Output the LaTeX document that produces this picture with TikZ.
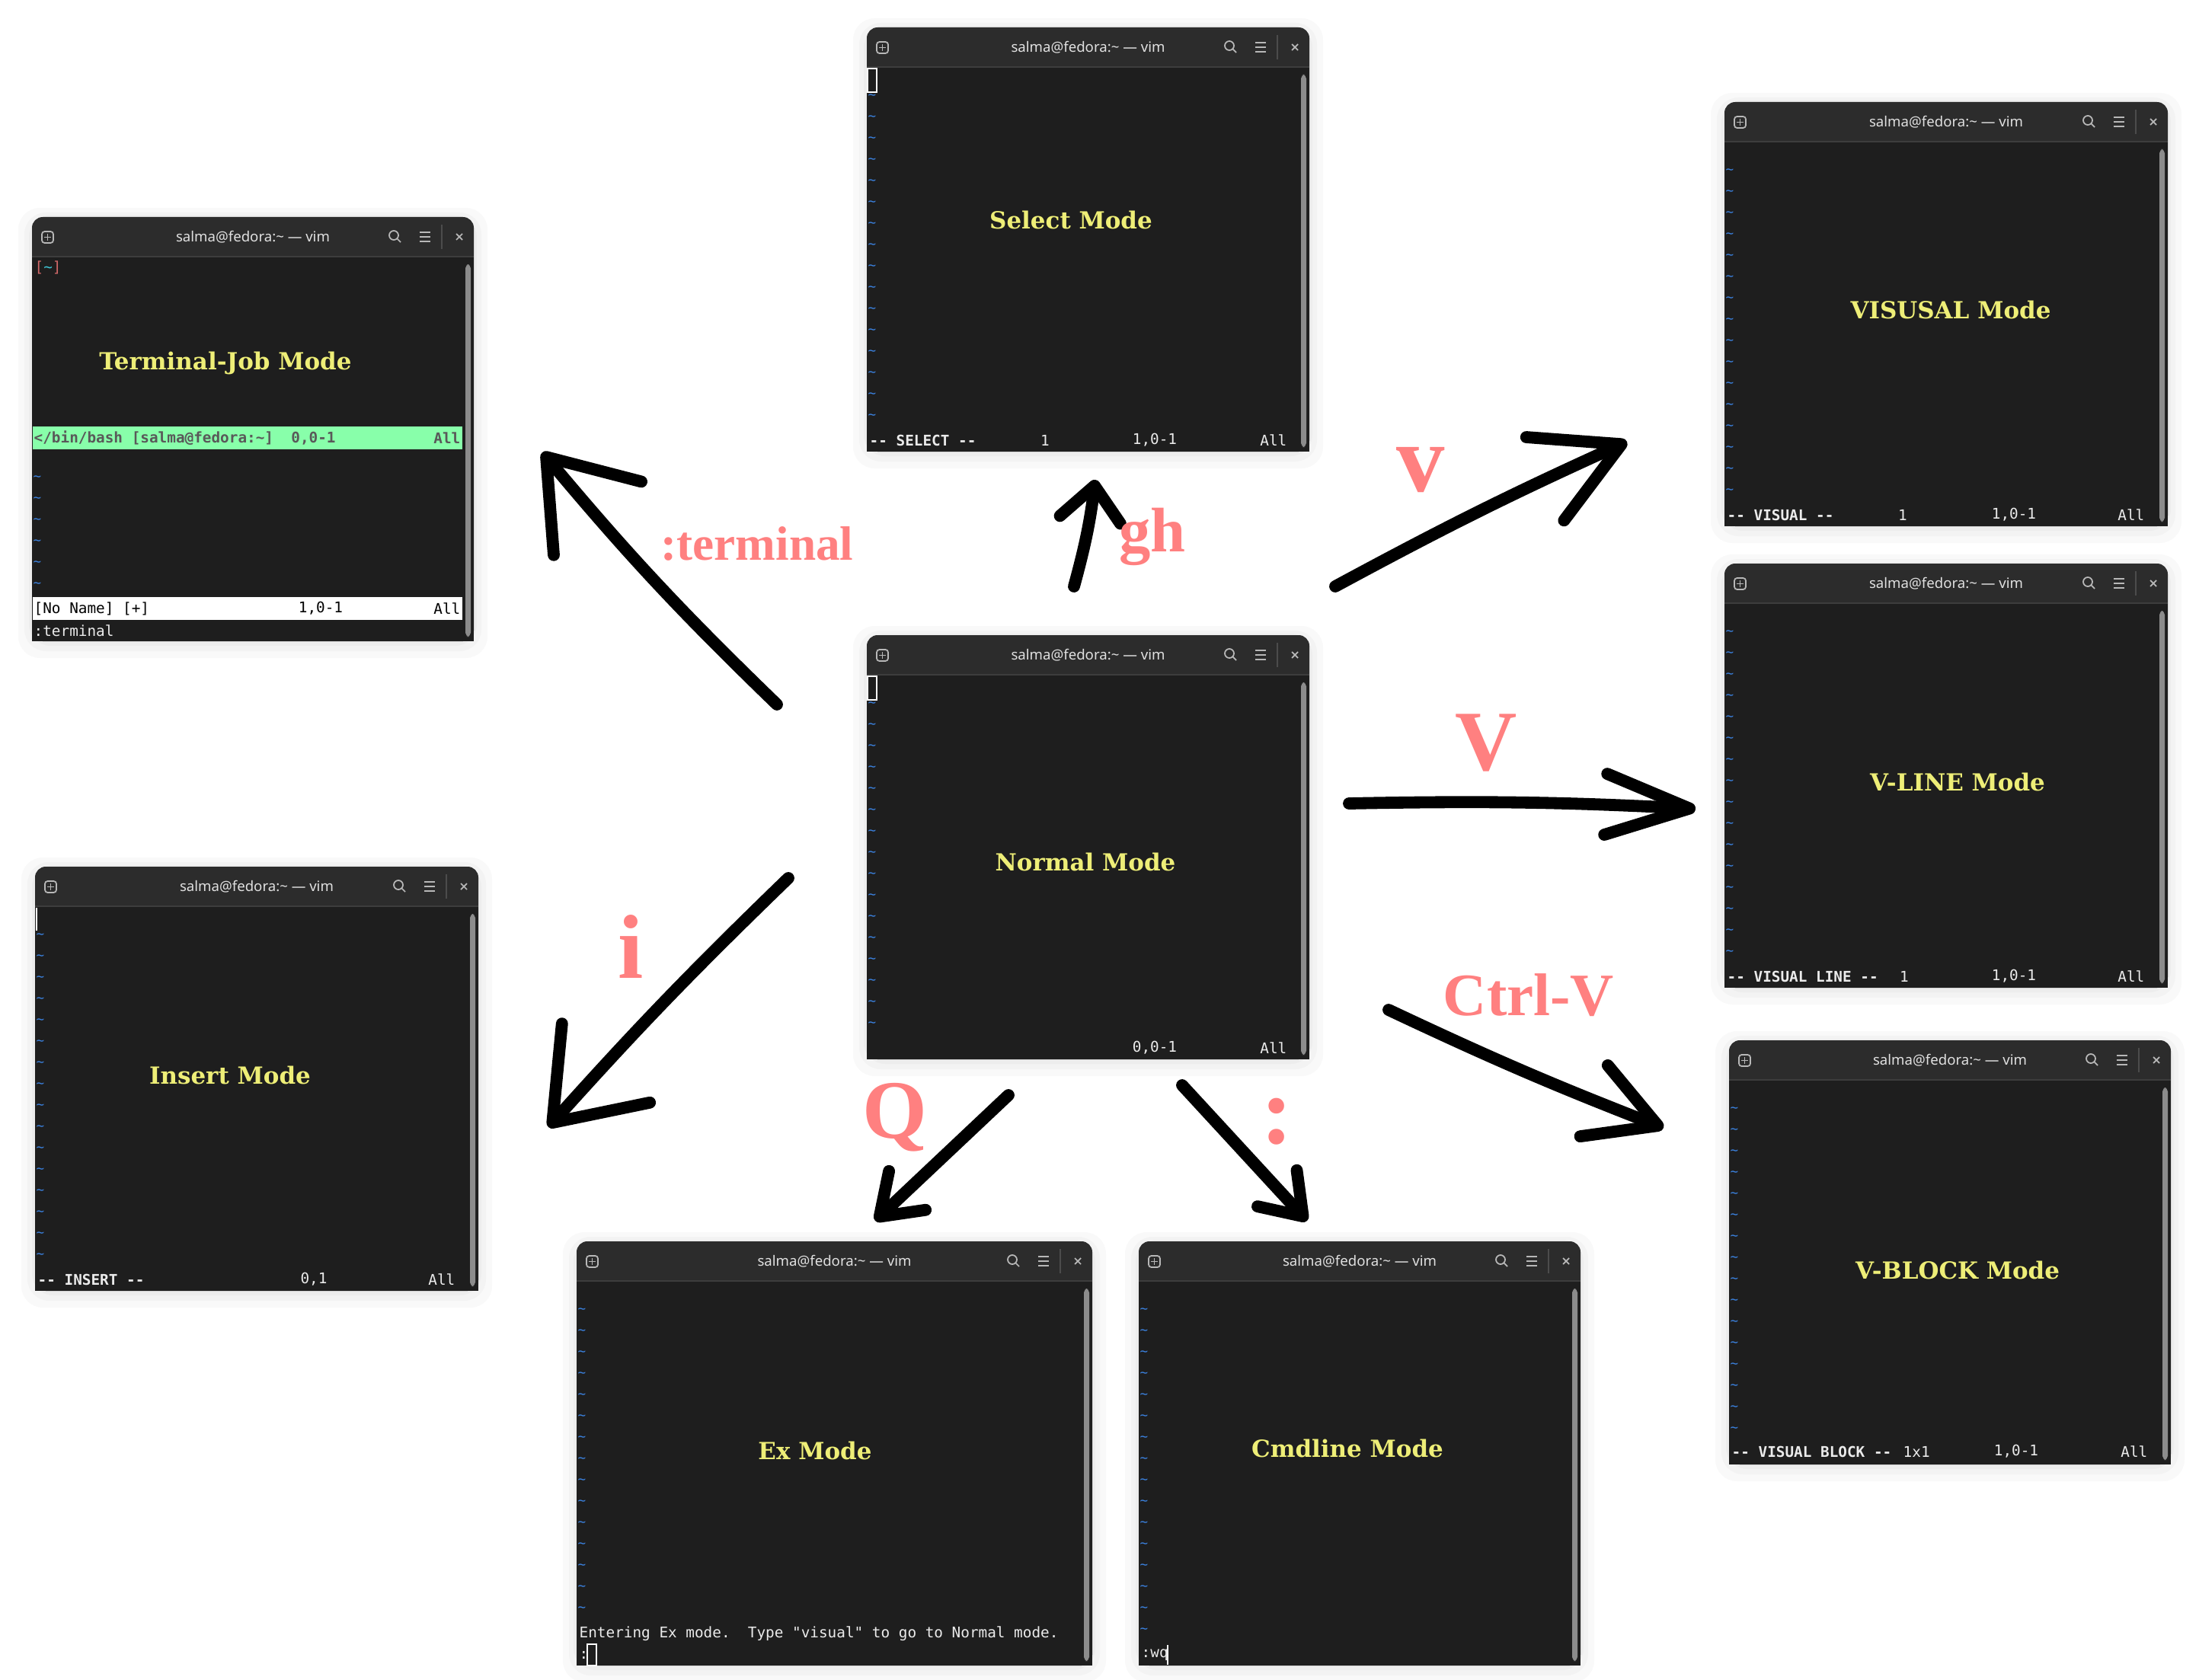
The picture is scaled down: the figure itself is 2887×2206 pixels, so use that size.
\documentclass[tikz,border=0pt]{standalone}
\usepackage{fontspec}
\setmainfont{DejaVu Serif}
\newfontfamily\keyfont{Liberation Serif}
\newfontfamily\titlefont{Noto Sans}
\newfontfamily\vimfont{DejaVu Sans Mono}
\usetikzlibrary{arrows.meta,fit,calc}

\definecolor{winbar}{HTML}{2C2C2C}
\definecolor{winbg}{HTML}{1E1E1E}
\definecolor{modeyellow}{HTML}{EEEE77}
\definecolor{keyred}{HTML}{FF8080}
\definecolor{tildeblue}{HTML}{3B82E0}
\definecolor{termgreen}{HTML}{88FFAA}
\definecolor{bracketred}{HTML}{D06868}
\definecolor{tildecyan}{HTML}{40C8D8}

\tikzset{
  winshadow/.style={fill=black, opacity=0.025, rounded corners=8pt},
  winframe/.style={fill=winbar, inner sep=0pt, rounded corners=4pt},
  wintitle/.style={text=white!88!black, font=\titlefont\fontsize{5.3}{6}\selectfont, inner sep=0pt},
  icon/.style={draw=white!72!black, line width=0.5pt},
  tilde/.style={text=tildeblue, font=\vimfont\fontsize{5}{6}\selectfont, inner sep=0pt},
  vimtext/.style={text=white!92!black, font=\vimfont\fontsize{5.5}{6.5}\selectfont, inner sep=0pt},
  vimbold/.style={vimtext, font=\vimfont\bfseries\fontsize{5.5}{6.5}\selectfont},
  modename/.style={text=modeyellow, font=\bfseries\fontsize{8.8}{10}\selectfont},
  keyname/.style={text=keyred, font=\keyfont\bfseries\fontsize{#1}{#1}\selectfont},
  stroke/.style={line width=4.5pt, line cap=round, line join=round,
    -{Straight Barb[round,#1]}},
}

% one vim window: name, top left, bottom right, first and last tilde row
\newcommand{\vimwin}[7]{%
  \fill[winshadow] (#2-18,#3-12) rectangle (#4+18,#5+22);
  \fill[winshadow] (#2-10,#3-6) rectangle (#4+10,#5+13);
  \fill[winshadow] (#2-4,#3-2) rectangle (#4+4,#5+6);
  \node[winframe, fit={(#2,#3) (#4,#5)}] (#1) {};
  \fill[winbg] (#2,#3+52) rectangle (#4,#5);
  \draw[white!24!black, line width=0.6pt] (#2,#3+52) -- (#4,#3+52);
  \draw[icon, rounded corners=1pt] (#2+13,#3+19) rectangle (#2+28,#3+34);
  \draw[icon] (#2+20.5,#3+22) -- (#2+20.5,#3+31) (#2+16,#3+26.5) -- (#2+25,#3+26.5);
  \draw[icon] (#4-105,#3+24) circle[radius=6] (#4-100.5,#3+28.5) -- (#4-96,#3+33);
  \draw[icon] (#4-71,#3+20) -- (#4-57,#3+20) (#4-71,#3+26) -- (#4-57,#3+26)
    (#4-71,#3+32) -- (#4-57,#3+32);
  \draw[white!30!black, line width=0.5pt] (#4-42,#3+10) -- (#4-42,#3+42);
  \draw[icon] (#4-23,#3+22) -- (#4-15,#3+30) (#4-23,#3+30) -- (#4-15,#3+22);
  \fill[white!55!black, rounded corners=1.5pt] (#4-11,#3+62) rectangle (#4-4,#5-6);
  \node[wintitle] (#1-title) at ({(#2+#4)/2},#3+26) {salma@fedora:\textasciitilde{} — vim};
  \foreach \k in {#6,...,#7}
    \node[tilde] (#1-t\k) at (#2+7,#3+63+28*\k) {\textasciitilde};
}

\begin{document}
\begin{tikzpicture}[x=0.01cm, y=-0.01cm]
\useasboundingbox[fill=white] (0,0) rectangle (2887,2206);

% windows
\vimwin{sel}{1138}{36}{1719}{593}{1}{16}
\vimwin{nor}{1138}{834}{1719}{1391}{1}{16}
\vimwin{term}{42}{285}{622}{842}{10}{15}
\vimwin{ins}{46}{1138}{628}{1695}{1}{16}
\vimwin{ex}{757}{1630}{1434}{2187}{1}{15}
\vimwin{cmd}{1495}{1630}{2075}{2187}{1}{16}
\vimwin{vis}{2264}{134}{2846}{691}{1}{16}
\vimwin{vline}{2264}{740}{2846}{1297}{1}{16}
\vimwin{vblock}{2270}{1366}{2850}{1923}{1}{16}

% select
\draw[white, line width=0.6pt] (1139,90) rectangle (1151,121);
\node[vimbold, anchor=west] (sel-st) at (1141,578) {-- SELECT --};
\node[vimtext] (sel-cnt) at (1372,578) {1};
\node[vimtext] (sel-pos) at (1516,578) {1,0-1};
\node[vimtext, anchor=east] (sel-all) at (1690,578) {All};
\node[modename] (sel-lbl) at (1406,289) {Select Mode};

% normal
\draw[white, line width=0.6pt] (1139,888) rectangle (1151,919);
\node[vimtext] (nor-pos) at (1516,1376) {0,0-1};
\node[vimtext, anchor=east] (nor-all) at (1690,1376) {All};
\node[modename] (nor-lbl) at (1425,1132) {Normal Mode};

% terminal-job
\node[vimtext, anchor=west] (term-prompt) at (45,351) {{\color{bracketred}[}{\color{tildecyan}\textasciitilde}{\color{bracketred}]}};
\fill[termgreen] (43,560) rectangle (607,590);
\node[vimbold, text=black!65, anchor=west] (term-job) at (44,575) {</bin/bash [salma@fedora:\textasciitilde]\ \ 0,0-1};
\node[vimbold, text=black!65, anchor=east] (term-all) at (605,575) {All};
\fill[white] (43,784) rectangle (607,814);
\node[vimtext, text=black, anchor=west] (term-buf) at (44,799) {[No Name] [+]};
\node[vimtext, text=black] (term-pos) at (421,799) {1,0-1};
\node[vimtext, text=black, anchor=east] (term-all2) at (605,799) {All};
\node[vimtext, anchor=west] (term-cmd) at (44,828) {:terminal};
\node[modename] (term-lbl) at (296,477) {Terminal-Job Mode};

% insert
\draw[white, line width=0.8pt] (48,1192) -- (48,1222);
\node[vimbold, anchor=west] (ins-st) at (49,1680) {-- INSERT --};
\node[vimtext] (ins-pos) at (412,1680) {0,1};
\node[vimtext, anchor=east] (ins-all) at (598,1680) {All};
\node[modename] (ins-lbl) at (302,1412) {Insert Mode};

% ex
\node[vimtext, anchor=west] (ex-msg) at (760,2145) {Entering Ex mode.\ \ Type "visual" to go to Normal mode.};
\node[vimtext, anchor=west] (ex-col) at (760,2173) {:};
\draw[white, line width=0.6pt] (771,2159) rectangle (783,2187);
\node[modename] (ex-lbl) at (1070,1905) {Ex Mode};

% cmdline
\node[vimtext, anchor=west] (cmd-wq) at (1498,2173) {:wq};
\draw[white, line width=0.8pt] (1533,2160) -- (1533,2186);
\node[modename] (cmd-lbl) at (1769,1902) {Cmdline Mode};

% visual
\node[vimbold, anchor=west] (vis-st) at (2267,676) {-- VISUAL --};
\node[vimtext] (vis-cnt) at (2498,676) {1};
\node[vimtext] (vis-pos) at (2644,676) {1,0-1};
\node[vimtext, anchor=east] (vis-all) at (2816,676) {All};
\node[modename] (vis-lbl) at (2561,407) {VISUSAL Mode};

% visual line
\node[vimbold, anchor=west] (vline-st) at (2267,1282) {-- VISUAL LINE --};
\node[vimtext] (vline-cnt) at (2500,1282) {1};
\node[vimtext] (vline-pos) at (2644,1282) {1,0-1};
\node[vimtext, anchor=east] (vline-all) at (2816,1282) {All};
\node[modename] (vline-lbl) at (2570,1027) {V-LINE Mode};

% visual block
\node[vimbold, anchor=west] (vblock-st) at (2273,1906) {-- VISUAL BLOCK --};
\node[vimtext, anchor=west] (vblock-cnt) at (2498,1906) {1x1};
\node[vimtext] (vblock-pos) at (2647,1906) {1,0-1};
\node[vimtext, anchor=east] (vblock-all) at (2820,1906) {All};
\node[modename] (vblock-lbl) at (2570,1668) {V-BLOCK Mode};

% arrow ends
\coordinate (term-from) at (1020,925);
\coordinate (term-to) at (712,594);
\coordinate (sel-from) at (1410,770);
\coordinate (sel-to) at (1438,630);
\coordinate (vis-from) at (1753,770);
\coordinate (vis-to) at (2136,580);
\coordinate (vline-from) at (1771,1055);
\coordinate (vline-to) at (2226,1062);
\coordinate (vblock-from) at (1823,1326);
\coordinate (vblock-to) at (2184,1481);
\coordinate (ins-from) at (1035,1153);
\coordinate (ins-to) at (720,1480);
\coordinate (ex-from) at (1324,1438);
\coordinate (ex-to) at (1149,1603);
\coordinate (cmd-from) at (1552,1425);
\coordinate (cmd-to) at (1716,1603);

\draw[stroke={length=1.05cm,width=1.5cm}] (term-from) to[bend left=3] (term-to);
\draw[stroke={length=0.45cm,width=0.8cm}] (sel-from) to[bend right=4] (sel-to);
\draw[stroke={length=1.1cm,width=1.2cm}] (vis-from) to[bend left=2] (vis-to);
\draw[stroke={length=1.1cm,width=0.8cm}] (vline-from) to[bend left=2] (vline-to);
\draw[stroke={length=0.9cm,width=1.0cm}] (vblock-from) to[bend right=2] (vblock-to);
\draw[stroke={length=1.05cm,width=1.55cm}] (ins-from) to[bend right=2] (ins-to);
\draw[stroke={length=0.5cm,width=0.7cm}] (ex-from) -- (ex-to);
\draw[stroke={length=0.5cm,width=0.7cm}] (cmd-from) -- (cmd-to);

% key labels
\node[keyname=18] (term-key) at (994,714) {:terminal};
\node[keyname=23.5] (sel-key) at (1513,705) {gh};
\node[keyname=36] (vis-key) at (1865,617) {v};
\node[keyname=32] (vline-key) at (1951,976) {V};
\node[keyname=22.5] (vblock-key) at (2007,1307) {Ctrl-V};
\node[keyname=34] (ins-key) at (828,1243) {i};
\node[keyname=31] (ex-key) at (1175,1467) {Q};
\node[keyname=36] (cmd-key) at (1677,1473) {:};
\end{tikzpicture}
\end{document}
